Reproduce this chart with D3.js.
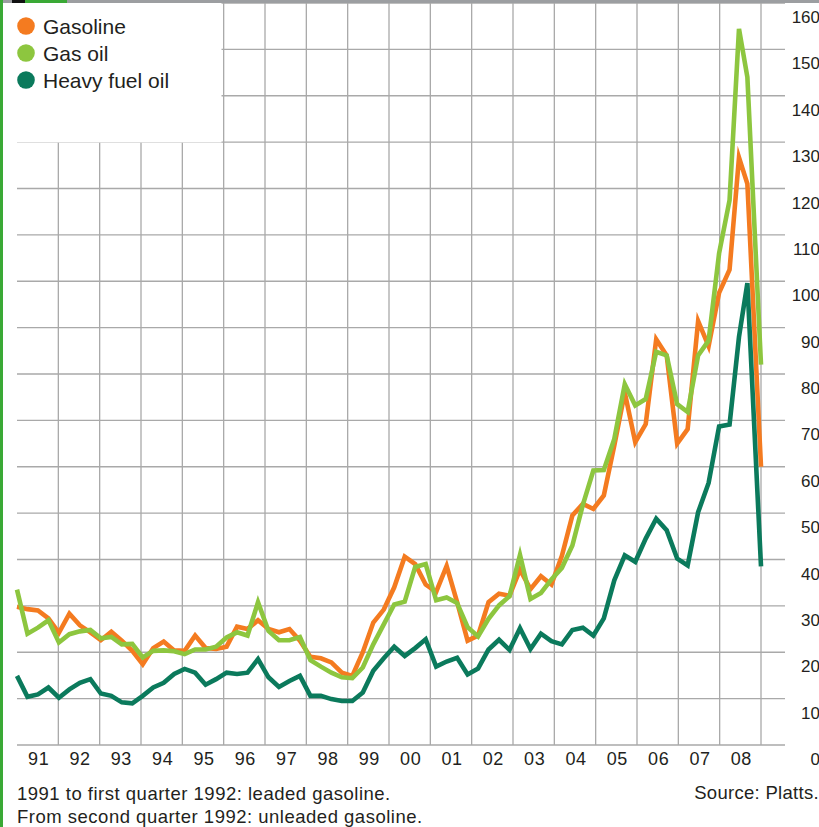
<!DOCTYPE html>
<html>
<head>
<meta charset="utf-8">
<script src="https://cdn.jsdelivr.net/npm/d3@7"></script>
<style>
  html, body { margin: 0; padding: 0; background: #fff; }
  svg { display: block; }
  text { font-family: "Liberation Sans", Arial, Helvetica, sans-serif; fill: #231f20; }
</style>
</head>
<body>
<script>
// ---------- data ----------
const seriesNames = ["Gasoline", "Gas oil", "Heavy fuel oil"];
const seriesColors = ["#f47b20", "#8dc63f", "#0b7a5c"];
// observation position in quarter units from Q1 1991 (last three are the 2008 peak/crash readings)
const obsIndex = d3.range(69).concat([68.9, 69.7, 71]);
const gasoline = [29.8,29.3,29.0,27.3,24.2,28.3,25.8,24.3,22.6,24.4,
  22.5,20.3,17.4,20.9,22.3,20.4,20.3,23.6,20.9,20.7,
  21.2,25.5,25.0,26.9,25.0,24.3,25.0,22.5,19.0,18.7,
  17.8,15.6,14.9,20.0,26.4,29.2,34.0,40.6,39.0,34.6,
  33.0,38.6,30.8,22.5,23.6,30.8,32.6,32.2,37.8,33.6,
  36.4,34.6,40.8,49.5,52.0,50.9,53.8,64.6,76.0,65.3,
  69.2,87.5,84.0,65.0,68.1,91.4,86.0,97.5,102.5,
  126.7,121.0,60.0];
const gasOil = [33.5,24.0,25.3,26.9,22.1,23.9,24.5,24.8,23.0,23.3,
  21.7,21.8,18.9,20.3,20.4,20.2,19.6,20.6,20.6,21.2,
  23.2,24.3,23.6,30.8,24.6,22.6,22.6,23.3,18.3,16.9,
  15.6,14.6,14.4,16.7,21.7,26.0,30.3,30.9,38.4,39.0,
  31.2,31.8,30.6,25.4,23.4,27.2,30.1,32.1,41.0,31.5,
  32.8,35.7,38.2,43.0,51.8,59.2,59.3,66.0,77.8,73.2,
  74.6,84.8,84.0,73.5,71.8,84.0,87.2,106.0,117.5,
  154.4,144.0,82.0];
const heavyFuelOil = [14.9,10.4,10.9,12.4,10.2,12.0,13.4,14.2,11.1,10.6,
  9.2,9.0,10.6,12.4,13.4,15.3,16.4,15.6,13.0,14.2,
  15.6,15.3,15.6,18.5,14.6,12.5,13.8,14.9,10.6,10.6,
  9.9,9.5,9.5,11.3,16.0,18.7,21.2,19.2,20.9,22.8,
  16.9,18.0,18.8,15.2,16.5,20.6,22.7,20.5,25.2,20.7,
  24.0,22.4,21.7,24.8,25.3,23.6,27.3,35.5,40.9,39.5,
  44.5,48.8,46.3,40.2,38.7,50.2,56.5,68.7,69.1,
  88.0,99.6,38.5];
const years = d3.range(1991, 2009);
const yearLabels = ["91","92","93","94","95","96","97","98","99","00","01","02","03","04","05","06","07","08"];
const yTicks = d3.range(0, 161, 10);
const footnotes = ["1991 to first quarter 1992: leaded gasoline.", "From second quarter 1992: unleaded gasoline."];
const sourceText = "Source: Platts.";

// ---------- layout ----------
const W = 819, H = 827;
const plotLeft = 17, plotRight = 761, plotTop = 3, plotBottom = 745, gridRight = 785;

const svg = d3.select("body").append("svg").attr("width", W).attr("height", H);
svg.append("rect").attr("width", W).attr("height", H).attr("fill", "#fff");

const xYear = d3.scaleLinear().domain([1991, 2009]).range([plotLeft, plotRight]);
const xObs = d3.scaleLinear().domain([0, 71]).range([plotLeft, plotRight]);
const yScale = d3.scaleLinear().domain([0, 160]).range([plotBottom, plotTop]);

// grid
const grid = svg.append("g").attr("stroke", "#a9a9a9").attr("stroke-width", 1.3);
grid.selectAll("line.h").data(yTicks).join("line").attr("class", "h")
  .attr("x1", plotLeft).attr("x2", gridRight)
  .attr("y1", d => yScale(d)).attr("y2", d => yScale(d));
grid.selectAll("line.v").data(d3.range(1992, 2010)).join("line").attr("class", "v")
  .attr("x1", d => xYear(d)).attr("x2", d => xYear(d))
  .attr("y1", plotTop).attr("y2", plotBottom);

// legend box (covers gridlines)
svg.append("rect").attr("x", 0).attr("y", 0).attr("width", 221.5).attr("height", 142.5).attr("fill", "#fff");

// y labels (right side, hanging below gridlines)
svg.append("g").selectAll("text").data(yTicks).join("text")
  .attr("x", 820).attr("y", d => yScale(d) + 20)
  .attr("text-anchor", "end")
  .style("font-size", "17px")
  .text(d => d);

// x labels
svg.append("g").selectAll("text").data(years).join("text")
  .attr("x", d => (xYear(d) + xYear(d + 1)) / 2 + 1)
  .attr("y", 765)
  .attr("text-anchor", "middle")
  .style("font-size", "18px")
  .style("letter-spacing", "0.6px")
  .text((d, i) => yearLabels[i]);

// lines
const seriesData = [gasoline, gasOil, heavyFuelOil];
const line = d3.line()
  .x((d, i) => xObs(obsIndex[i]))
  .y(d => yScale(d));
svg.append("g").selectAll("path").data(seriesData).join("path")
  .attr("d", d => line(d))
  .attr("fill", "none")
  .attr("stroke", (d, i) => seriesColors[i])
  .attr("stroke-width", 4.6)
  .attr("stroke-linejoin", "miter")
  .attr("stroke-miterlimit", 6);

// legend
const lg = svg.append("g");
seriesNames.forEach((name, i) => {
  const cy = 26 + i * 27;
  lg.append("circle").attr("cx", 26).attr("cy", cy).attr("r", 8.8).attr("fill", seriesColors[i]);
  lg.append("text").attr("x", 43).attr("y", cy + 7.5).style("font-size", "21px").text(name);
});

// footnotes & source
svg.append("g").selectAll("text").data(footnotes).join("text")
  .attr("x", 17).attr("y", (d, i) => 800 + i * 23)
  .style("font-size", "18.5px")
  .style("letter-spacing", "0.5px")
  .text(d => d);
svg.append("text").attr("x", 819).attr("y", 799).attr("text-anchor", "end")
  .style("font-size", "18.5px").style("letter-spacing", "0.3px").text(sourceText);

// frame decorations: top bar and left stripe
svg.append("rect").attr("x", 0).attr("y", 0).attr("width", W).attr("height", 3).attr("fill", "#9c9ea1");
svg.append("rect").attr("x", 12).attr("y", 0).attr("width", 13).attr("height", 3).attr("fill", "#111");
svg.append("rect").attr("x", 25).attr("y", 0).attr("width", 42).attr("height", 3).attr("fill", "#3aa935");
svg.append("rect").attr("x", 0).attr("y", 0).attr("width", 3).attr("height", H).attr("fill", "#3aa935");
</script>
</body>
</html>
